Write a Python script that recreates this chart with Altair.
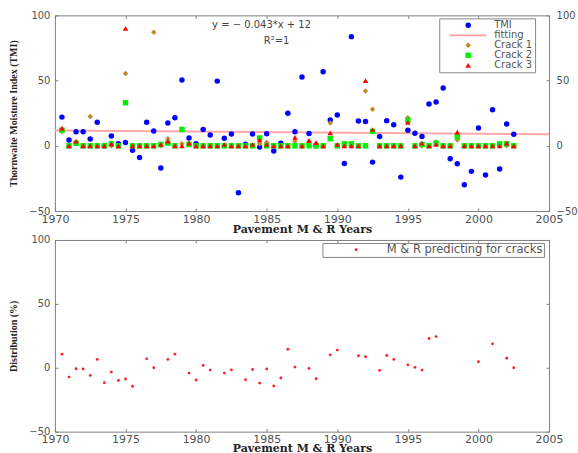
import altair as alt
import pandas as pd

# ---------------- data ----------------
years = [1970.5, 1971, 1971.5, 1972, 1972.5, 1973, 1973.5, 1974, 1974.5, 1975,
         1975.5, 1976, 1976.5, 1977, 1977.5, 1978, 1978.5, 1979, 1979.5, 1980,
         1980.5, 1981, 1981.5, 1982, 1982.5, 1983, 1983.5, 1984, 1984.5, 1985,
         1985.5, 1986, 1986.5, 1987, 1987.5, 1988, 1988.5, 1989, 1989.5, 1990,
         1990.5, 1991, 1991.5, 1992, 1992.5, 1993, 1993.5, 1994, 1994.5, 1995,
         1995.5, 1996, 1996.5, 1997, 1997.5, 1998, 1998.5, 1999, 1999.5, 2000,
         2000.5, 2001, 2001.5, 2002, 2002.5]

tmi = [22, 4.5, 10.7, 10.7, 5.3, 18, 0, 7.5, 1.5, 2.5,
       -3.5, -9, 18, 11.3, -17, 17.5, 21.5, 50.4, 6, 1.5,
       12.5, 8.3, 49.6, 5.8, 9, -36, 1.3, 9, -1, 9.3,
       -4, 2, 25, 10.7, 52.7, 9.4, 0, 56.7, 19.8, 23.7,
       -13.5, 83.7, 19, 18.6, -12.5, 7.1, 19.3, 16.2, -24, 12,
       9.7, 7.1, 32, 33.6, 44.3, -10, -13.7, -29.8, -19.6, 13.7,
       -22.4, 27.7, -17.8, 16.8, 8.9]

crack1 = [11, 0, 2, 0, 22.5, 0, 0, 0, 0, 55.5,
          0, 0, 0, 87, 0, 5.5, 0, 1.5, 2, 0,
          0, 0, 0, 0, 0, 0, 0, 0, 1.5, 2.5,
          0, 0, 0, 3.5, 0, 3.5, 1.5, 0, 17.5, 0,
          0, 0, 0, 42, 28, 0, 0, 0, 0, 21.5,
          0, 0, 0, 3, 0, 0, 4.5, 0, 0, 0,
          0, 0, 0, 0, 0]

crack2 = [12, 0, 2, 0, 0, 0, 0, 1.5, 0, 33,
          0, 0, 0, 0, 1, 2, 0, 12.5, 1, 0,
          0, 0, 0, 0, 0, 0, 0, 0, 6, 0,
          0, 0, 0, 0, 0, 0, 0, 0, 5.5, 0,
          1.5, 1.5, 0, 0, 11, 0, 0, 0, 0, 19.5,
          0, 1, 0, 2, 0, 0, 7, 0, 0, 0,
          0, 0, 1.5, 1.5, 0]

crack3 = [13.5, 0, 3.5, 0, 0, 0, 0, 1.5, 0, 90,
          0, 0, 0, 0, 1, 3.5, 0, 0, 2, 0,
          0, 0, 0, 1, 0, 0, 0, 1, 4.5, 1,
          0, 0, 0, 6.5, 0, 4, 2.5, 0, 10, 1,
          0, 0, 0, 50, 12.5, 0, 0, 0, 0, 18,
          0, 2, 0, 1, 0, 0, 10.5, 0, 0, 0,
          0, 0, 0, 2, 0]

fit_years = [1970, 2005]
fit_vals = [11.7, 8.9]

mr_years = [1970.5, 1971, 1971.5, 1972, 1972.5, 1973, 1973.5, 1974, 1974.5, 1975,
            1975.5, 1976.5, 1977, 1978, 1978.5, 1979.5, 1980, 1980.5, 1981, 1982,
            1982.5, 1983.5, 1984, 1984.5, 1985, 1985.5, 1986, 1986.5, 1987, 1988,
            1988.5, 1989.5, 1990, 1991.5, 1992, 1993, 1993.5, 1994, 1995, 1995.5,
            1996, 1996.5, 1997, 2000, 2001, 2002, 2002.5]
mr_vals = [10.6, -7.3, -0.8, -1, -6, 6.5, -11.7, -3.4, -9.9, -8.8,
           -14.5, 7, 0, 6.5, 10.6, -4.2, -9.6, 1.8, -1.8, -4.2,
           -1.6, -9.4, -1.3, -12, -1, -14.3, -8, 14.5, 0.5, -0.5,
           -8.6, 10.1, 13.8, 9.4, 8.6, -2, 9.6, 6.5, 2.3, 0.3,
           -1.8, 22.9, 24.4, 4.7, 18.7, 7.5, 0]

x_ticks = [1970, 1975, 1980, 1985, 1990, 1995, 2000, 2005]
y_ticks = [-50, 0, 50, 100]

series_names = ["TMI", "fitting", "Crack 1", "Crack 2", "Crack 3"]
series_colors = ["#0000ff", "#ff9c9c", "#c08a28", "#00f000", "#ff0000"]
# legend glyph for "fitting" is a thin bar (line sample)
series_shapes = ["circle", "M-6.7,-0.3L6.7,-0.3L6.7,0.3L-6.7,0.3Z", "diamond", "square", "triangle-up"]
series_sizes = [30, 30, 40, 28, 50]
mr_label = "M & R predicting for cracks"

eq_text = ["y = \u2212 0.043*x + 12"]
r2_text = ["R\u00b2=1"]

# ---------------- tables ----------------
rows = []
for name, vals in [("TMI", tmi), ("Crack 1", crack1), ("Crack 2", crack2), ("Crack 3", crack3)]:
    for yr, v in zip(years, vals):
        rows.append({"year": yr, "value": v, "series": name})
pts = pd.DataFrame(rows)
fitdf = pd.DataFrame({"year": fit_years, "value": fit_vals})
mrdf = pd.DataFrame({"year": mr_years, "value": mr_vals, "series": [mr_label] * len(mr_years)})

W = 495
H1 = 196
H2 = 192

xscale = alt.Scale(domain=[1970, 2005], nice=False, zero=False)
yscale = alt.Scale(domain=[-50, 100], nice=False, zero=False)


def x_axis(h, tpad):
    return alt.Axis(values=x_ticks, format="d", title="Pavement M & R Years",
                    ticks=False, domain=False, grid=True, gridDash=[3, h - 6, 3, 0],
                    labelPadding=2, labelFlush=False, labelOverlap=False,
                    labelFontSize=11, titlePadding=tpad, titleFont="DejaVu Serif",
                    titleFontWeight="bold", titleFontSize=11, titleColor="#222222")


def y_axis(title):
    return alt.Axis(values=y_ticks, title=title, ticks=False, domain=False, grid=True,
                    gridDash=[3, W - 6, 3, 0], labelPadding=5, labelFlush=False,
                    labelOverlap=False, labelFontSize=10, titlePadding=10,
                    titleFont="Liberation Serif", titleFontWeight="bold",
                    titleFontSize=10, titleColor="#222222")


y_axis_right = alt.Axis(values=y_ticks, title=None, orient="right", ticks=False, domain=False,
                        grid=False, labelPadding=7, labelFlush=False, labelOverlap=False,
                        labelFontSize=10)

leg_top = alt.Legend(title=None, orient="none", legendX=385, legendY=3, padding=2,
                     symbolOffset=22, labelOffset=21, rowPadding=-1, symbolSize=36,
                     strokeColor="#888888", fillColor="white",
                     labelFont="DejaVu Sans", labelFontSize=10, labelColor="#555555",
                     labelExpr="datum.label + '\u00a0\u00a0\u00a0\u00a0'")

leg_bot = alt.Legend(title=None, orient="none", legendX=268, legendY=3, padding=1,
                     symbolOffset=27, labelOffset=25, rowPadding=0, symbolSize=8,
                     strokeColor="#888888", fillColor="white",
                     labelFont="DejaVu Sans", labelFontSize=11.5, labelColor="#555555",
                     labelExpr="datum.label + '\u00a0\u00a0'")

fit_layer = alt.Chart(fitdf).mark_line(color="#ffa8a8", strokeWidth=2).encode(
    x=alt.X("year:Q", scale=xscale, axis=x_axis(H1, 0)),
    y=alt.Y("value:Q", scale=yscale, axis=y_axis_right),
)

pts_layer = alt.Chart(pts).mark_point(filled=True, opacity=1).encode(
    x=alt.X("year:Q", scale=xscale, axis=x_axis(H1, 0)),
    y=alt.Y("value:Q", scale=yscale, axis=y_axis("Thornwaite Moisture Index (TMI)")),
    color=alt.Color("series:N", scale=alt.Scale(domain=series_names, range=series_colors), legend=leg_top),
    shape=alt.Shape("series:N", scale=alt.Scale(domain=series_names, range=series_shapes), legend=leg_top),
    size=alt.Size("series:N", scale=alt.Scale(domain=series_names, range=series_sizes), legend=None),
)

eq_layer = alt.Chart(pd.DataFrame({"t": eq_text})).mark_text(
    font="DejaVu Sans", fontSize=10, color="#444444", align="center", baseline="middle"
).encode(text="t:N", x=alt.value(207), y=alt.value(10))

r2_layer = alt.Chart(pd.DataFrame({"t": r2_text})).mark_text(
    font="DejaVu Sans", fontSize=10, color="#444444", align="center", baseline="middle"
).encode(text="t:N", x=alt.value(222), y=alt.value(26))

top = alt.layer(fit_layer, pts_layer, eq_layer, r2_layer).resolve_axis(
    y="independent"
).properties(width=W, height=H1)

bottom = alt.Chart(mrdf).mark_point(filled=True, size=8, opacity=1).encode(
    x=alt.X("year:Q", scale=xscale, axis=x_axis(H2, -2)),
    y=alt.Y("value:Q", scale=yscale, axis=y_axis("Distribution (%)")),
    color=alt.Color("series:N", scale=alt.Scale(domain=[mr_label], range=["#ff2020"]), legend=leg_bot),
).properties(width=W, height=H2)

chart = alt.vconcat(top, bottom, spacing=29, bounds="flush").resolve_scale(
    x="independent", y="independent", color="independent",
    shape="independent", size="independent"
).resolve_legend(color="independent", shape="independent", size="independent").properties(
    padding={"left": 8, "top": 9, "right": 0, "bottom": 0}
).configure_view(stroke="#808080", strokeWidth=1).configure_axis(
    labelFont="DejaVu Sans", labelColor="#505050", gridColor="#808080",
    gridOpacity=1, gridWidth=1
)

chart.save("out.html", embed_options={"renderer": "svg", "actions": False})
